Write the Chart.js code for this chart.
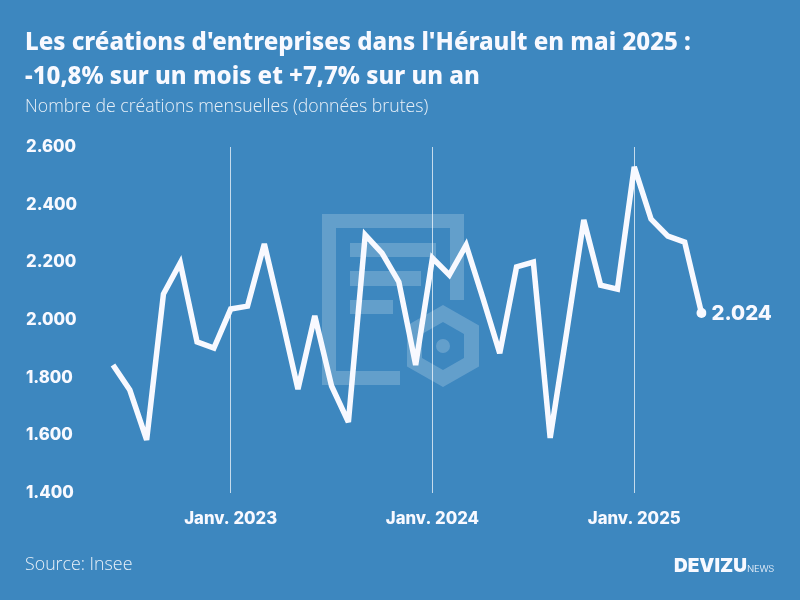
<!DOCTYPE html>
<html lang="fr">
<head>
<meta charset="utf-8">
<title>Créations d'entreprises dans l'Hérault</title>
<script src="https://cdn.jsdelivr.net/npm/chart.js@4"></script>
<style>
  html, body { margin: 0; padding: 0; }
  #page { position: relative; width: 800px; height: 600px; background: #3d87bf; overflow: hidden; color: #f8f9ff; font-family: "Open Sans", sans-serif; }
  #page div, #page svg, #page canvas { position: absolute; }
  #title { left: 25px; top: 24px; font-size: 24px; line-height: 34px; font-weight: 800; white-space: nowrap; font-family: "Noto Sans", sans-serif; }
  #subtitle { left: 25px; top: 94px; font-size: 17.7px; line-height: 22px; font-weight: 300; white-space: nowrap; font-family: "Open Sans", sans-serif; color: #e8f0f8; }
  #source { left: 25px; top: 552px; font-size: 17.8px; line-height: 22px; font-weight: 300; font-family: "Open Sans", sans-serif; color: #e8f0f8; }
  #logo { left: 674px; top: 553px; font-size: 19px; line-height: 26px; font-weight: 900; white-space: nowrap; font-family: "Inter", sans-serif; }
  #logo span { font-size: 9.5px; font-weight: 300; letter-spacing: -0.2px; }
</style>
</head>
<body>
<div id="page">
  <!-- filigrane du logo, sous le graphique -->
  <svg width="800" height="600" style="left:0;top:0">
    <g fill="#ffffff" fill-opacity="0.2">
      <path d="M322 214H464V300H450V228H336V371H400V385H322Z"/>
      <rect x="350" y="243" width="86" height="14"/>
      <rect x="350" y="271" width="71" height="15"/>
      <rect x="350" y="300" width="43" height="14"/>
      <path fill-rule="evenodd" d="M443 305L479 325.5V366.5L443 387L407 366.5V325.5ZM443 322L422 334V358L443 370L464 358V334Z"/>
      <circle cx="443" cy="346" r="7"/>
    </g>
  </svg>
  <canvas id="chart" width="800" height="600" style="left:0;top:0"></canvas>
  <div id="title">Les créations d'entreprises dans l'Hérault en mai 2025 :<br>-10,8% sur un mois et +7,7% sur un an</div>
  <div id="subtitle">Nombre de créations mensuelles (données brutes)</div>
  <div id="source">Source: Insee</div>
  <div id="logo">DEVIZU<span>NEWS</span></div>
</div>
<script>
// données
const months = [
  'juin 2022', 'juil. 2022', 'août 2022', 'sept. 2022', 'oct. 2022', 'nov. 2022', 'déc. 2022',
  'Janv. 2023', 'févr. 2023', 'mars 2023', 'avr. 2023', 'mai 2023', 'juin 2023', 'juil. 2023', 'août 2023', 'sept. 2023', 'oct. 2023', 'nov. 2023', 'déc. 2023',
  'Janv. 2024', 'févr. 2024', 'mars 2024', 'avr. 2024', 'mai 2024', 'juin 2024', 'juil. 2024', 'août 2024', 'sept. 2024', 'oct. 2024', 'nov. 2024', 'déc. 2024',
  'Janv. 2025', 'févr. 2025', 'mars 2025', 'avr. 2025', 'mai 2025'
];
const creations = [
  1844, 1757, 1584, 2090, 2198, 1924, 1903,
  2038, 2048, 2264, 2017, 1760, 2014, 1771, 1646, 2295, 2232, 2132, 1844,
  2215, 2156, 2260, 2076, 1885, 2184, 2201, 1591, 1965, 2347, 2121, 2107,
  2531, 2350, 2291, 2270, 2024
];
const yTicks = [1400, 1600, 1800, 2000, 2200, 2400, 2600];
const lastLabel = '2.024';

const white = '#f8f9ff';
const tickFont = { family: 'Inter', size: 16.7, weight: '800' };

function isJanuary(index) {
  return months[index].startsWith('Janv.');
}

// étiquette de la dernière valeur, et limite des angles de la courbe
const lastValueLabel = {
  id: 'lastValueLabel',
  beforeDatasetsDraw(chart) {
    chart.ctx.save();
    chart.ctx.miterLimit = 3.5;
  },
  afterDatasetsDraw(chart) {
    chart.ctx.restore();
    const point = chart.getDatasetMeta(0).data[creations.length - 1];
    const ctx = chart.ctx;
    ctx.save();
    ctx.fillStyle = white;
    ctx.font = '800 20.4px Inter';
    ctx.textBaseline = 'middle';
    ctx.fillText(lastLabel, point.x + 10, point.y + 1);
    ctx.restore();
  }
};

new Chart(document.getElementById('chart'), {
  type: 'line',
  data: {
    labels: months,
    datasets: [{
      data: creations,
      borderColor: white,
      borderWidth: 5.5,
      borderJoinStyle: 'miter',
      tension: 0,
      pointRadius: ctx => (ctx.dataIndex === creations.length - 1 ? 5 : 0),
      pointBackgroundColor: white,
      pointBorderWidth: 0
    }]
  },
  plugins: [lastValueLabel],
  options: {
    responsive: false,
    animation: false,
    layout: { autoPadding: false, padding: { left: 26, right: 98.5, top: 147, bottom: 0 } },
    plugins: { legend: { display: false }, title: { display: false }, tooltip: { enabled: false } },
    scales: {
      x: {
        type: 'category',
        offset: false,
        afterFit: scale => { scale.height = 107; },
        border: { display: false },
        grid: {
          drawTicks: false,
          color: ctx => (isJanuary(ctx.index) ? 'rgba(255,255,255,0.7)' : 'rgba(0,0,0,0)'),
          lineWidth: 1
        },
        ticks: {
          autoSkip: false,
          maxRotation: 0,
          padding: 16,
          color: white,
          font: tickFont,
          callback: (value, index) => (isJanuary(index) ? months[index] : '')
        }
      },
      y: {
        min: 1400,
        max: 2600,
        afterFit: scale => { scale.width = 87; },
        afterBuildTicks: scale => { scale.ticks = yTicks.map(value => ({ value })); },
        border: { display: false },
        grid: { display: false },
        ticks: {
          crossAlign: 'far',
          color: white,
          font: tickFont,
          callback: value => String(value).replace(/(\d)(\d{3})$/, '$1.$2')
        }
      }
    }
  }
});
</script>
</body>
</html>
